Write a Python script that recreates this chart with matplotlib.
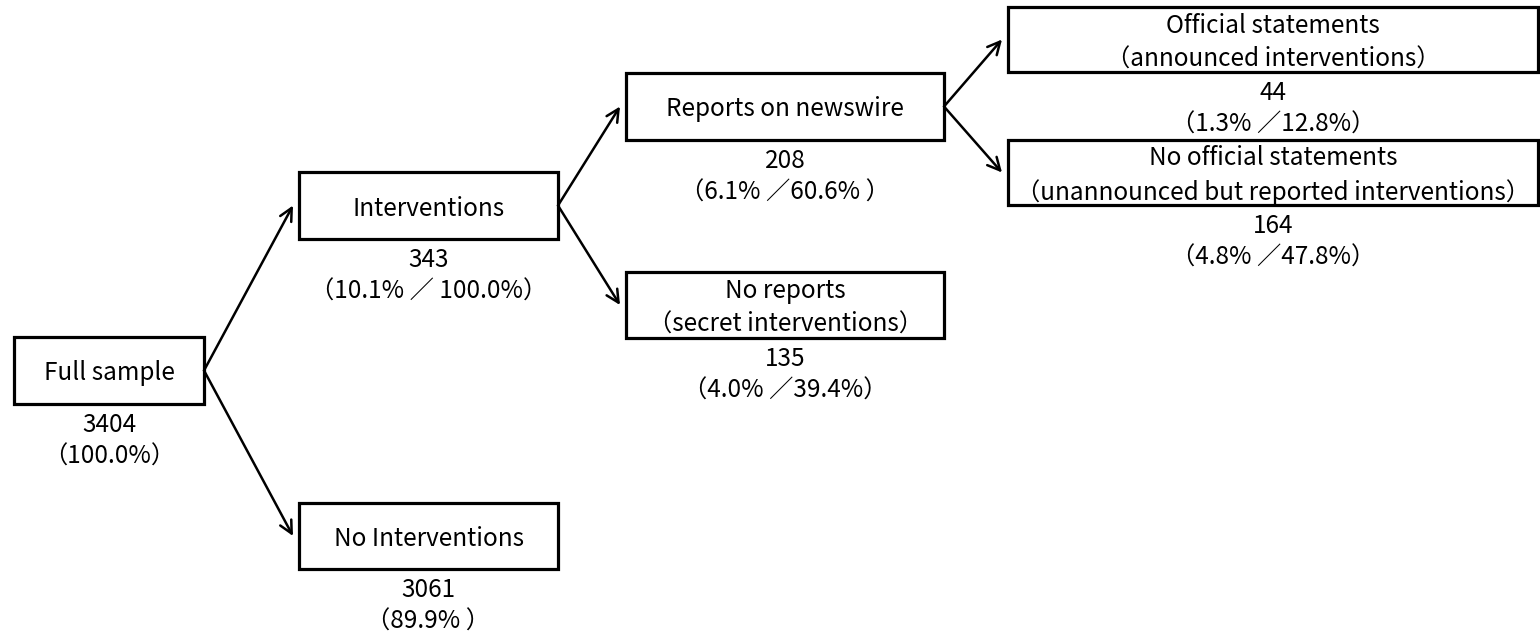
import matplotlib
matplotlib.use("Agg")
import matplotlib.pyplot as plt
from matplotlib.patches import Rectangle

plt.rcParams['font.family'] = ['Noto Sans CJK JP', 'DejaVu Sans']

# ---- data ----
node_labels = [
    "Full sample",
    "Interventions",
    "No Interventions",
    "Reports on newswire",
    "No reports\n（secret interventions）",
    "Official statements\n（announced interventions）",
    "No official statements\n（unannounced but reported interventions）",
]
node_counts = [3404, 343, 3061, 208, 135, 44, 164]
node_shares = [
    "（100.0%）",
    "（10.1% ／ 100.0%）",
    "（89.9% ）",
    "（6.1% ／60.6% ）",
    "（4.0% ／39.4%）",
    "（1.3% ／12.8%）",
    "（4.8% ／47.8%）",
]
edges = [(0, 1), (0, 2), (1, 3), (1, 4), (3, 5), (3, 6)]

# ---- layout (pixel space: x0, y_top, x1, y_bottom) ----
boxes = [
    (14, 337, 204, 404),
    (299, 172, 558, 239),
    (299, 503, 558, 569),
    (626, 73, 944, 140),
    (626, 272, 944, 338),
    (1008, 7, 1538, 72),
    (1008, 140, 1538, 205),
]
count_offset = 21
share_offset = 53
text_shift = 3

W, H = 1540, 638
fig = plt.figure(figsize=(W / 100, H / 100), dpi=100)
ax = fig.add_axes([0, 0, 1, 1])
ax.set_xlim(0, W)
ax.set_ylim(H, 0)
ax.axis('off')

fs = 17.5
for (x0, y0, x1, y1), lab, cnt, shr in zip(boxes, node_labels, node_counts, node_shares):
    ax.add_patch(Rectangle((x0, y0), x1 - x0, y1 - y0, fill=False,
                           edgecolor='black', linewidth=2.3))
    cx = (x0 + x1) / 2
    cy = (y0 + y1) / 2
    ax.text(cx, cy + text_shift, lab, ha='center', va='center', fontsize=fs,
            linespacing=1.38)
    ax.text(cx, y1 + count_offset, str(cnt), ha='center', va='center', fontsize=fs)
    ax.text(cx, y1 + share_offset, shr, ha='center', va='center', fontsize=fs)

for a, b in edges:
    ax0, ay0, ax1, ay1 = boxes[a]
    bx0, by0, bx1, by1 = boxes[b]
    start = (ax1, (ay0 + ay1) / 2)
    end = (bx0 - 6, (by0 + by1) / 2)
    ax.annotate('', xy=end, xytext=start,
                arrowprops=dict(arrowstyle='->,head_length=0.9,head_width=0.45',
                                color='black', lw=1.8,
                                shrinkA=0, shrinkB=0))

fig.savefig('out.png', dpi=100, facecolor='white')
